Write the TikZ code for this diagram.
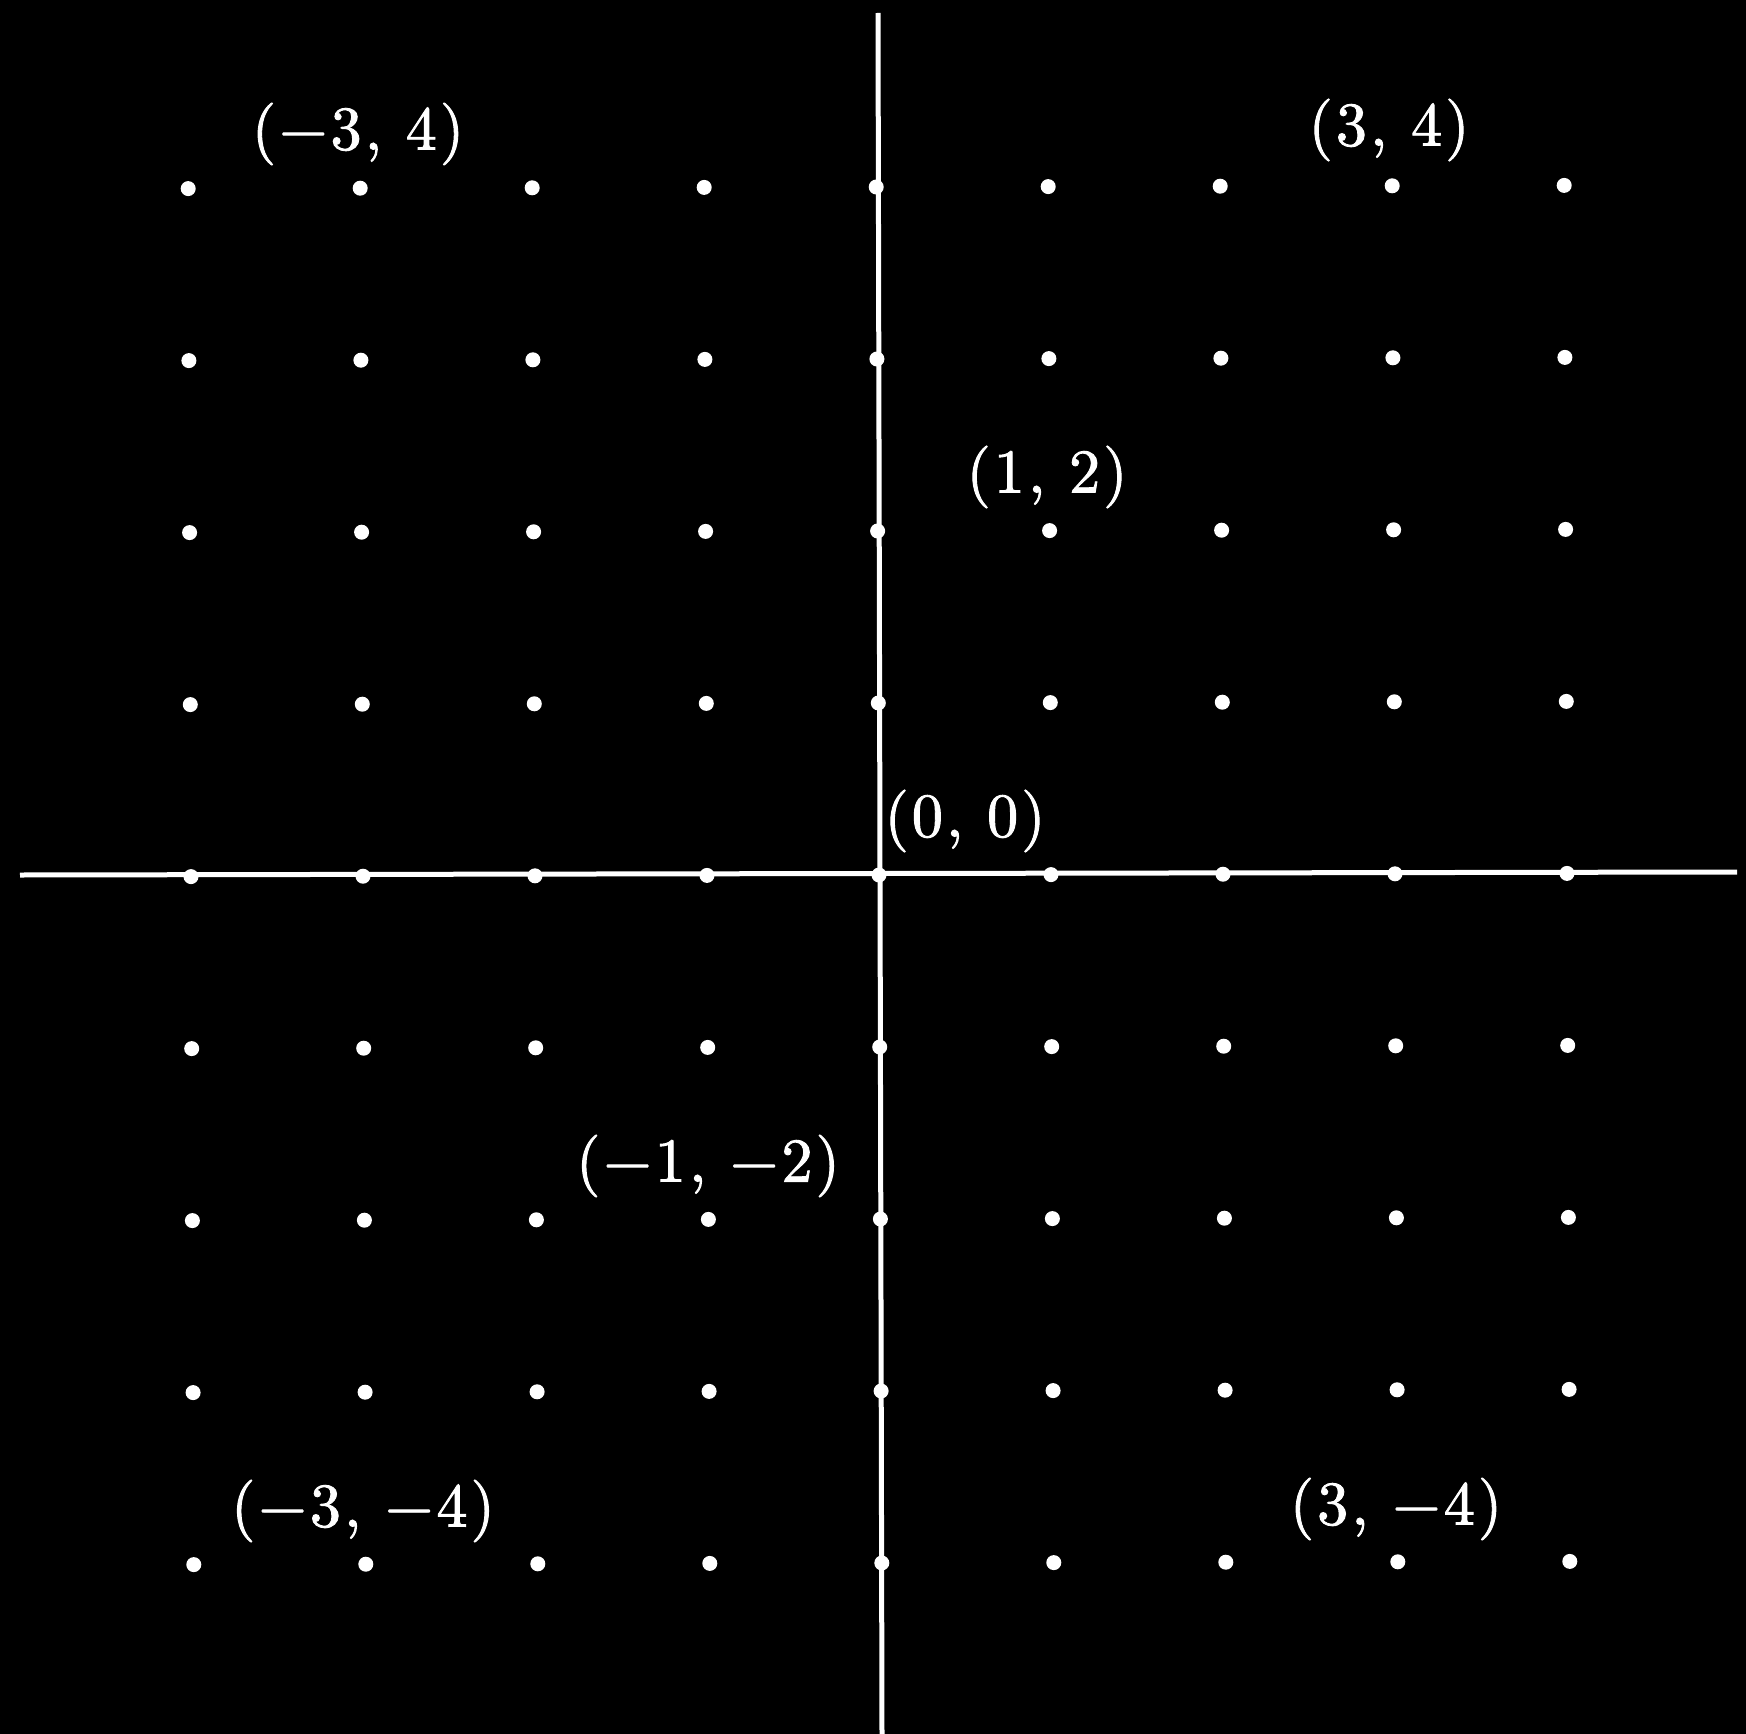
\documentclass[tikz,border=0pt]{standalone}
\usepackage{fontspec}
\newfontfamily\lblfont{lmroman10-regular.otf}[FakeBold=1.5,LetterSpace=5]
\begin{document}
\begin{tikzpicture}[x=0.3mm,y=-0.3mm,
  axisline/.style={white,line width=1.5mm},
  lbl/.style={white,inner sep=0pt,font=\lblfont\fontsize{53}{60}\selectfont},
  dotmark/.style={white}]
\fill[black] (0,0) rectangle (1746,1734);
\useasboundingbox (0,0) rectangle (1746,1734);
\coordinate (xl) at (20,875);
\coordinate (xr) at (1737,872);
\coordinate (yt) at (878,13);
\coordinate (yb) at (882,1734);
\draw[axisline] (xl) -- (xr);
\draw[axisline] (yt) -- (yb);
\foreach \i in {-4,...,4}{
  \foreach \j in {-4,...,4}{
    \fill[dotmark] ({879+172*\i-0.7*\j},{875-172*\j-0.4*\i}) circle (7.5);
  }
}
\node[lbl] (m34) at (358,134) {(−3, 4)};
\node[lbl] (p34) at (1389,130) {(3, 4)};
\node[lbl] (p12) at (1047,477) {(1, 2)};
\node[lbl] (o) at (965,821) {(0, 0)};
\node[lbl] (m12) at (708,1166) {(−1, −2)};
\node[lbl] (mm34) at (363,1511) {(−3, −4)};
\node[lbl] (pm34) at (1396,1509) {(3, −4)};
\end{tikzpicture}
\end{document}
